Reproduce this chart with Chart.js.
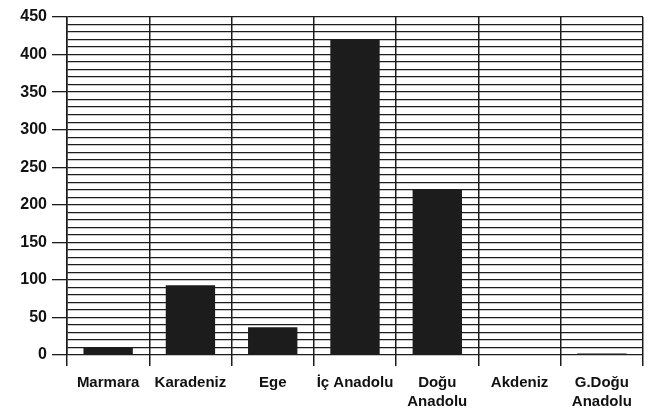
<!DOCTYPE html>
<html>
<head>
<meta charset="utf-8">
<script src="https://cdn.jsdelivr.net/npm/chart.js@4"></script>
<style>
  html, body { margin: 0; padding: 0; background: #fff; }
  #wrap { width: 650px; height: 416px; }
</style>
</head>
<body>
<div id="wrap"><canvas id="grafico" width="650" height="416"></canvas></div>
<script>
// Bölgeler ve değerler
const bolgeler = ['Marmara', 'Karadeniz', 'Ege', 'İç Anadolu', ['Doğu', 'Anadolu'], 'Akdeniz', ['G.Doğu', 'Anadolu']];
const degerler = [10, 93, 37, 420, 220, 0, 2];
const eksenMax = 450;

const koyu = '#1c1c1c';

new Chart(document.getElementById('grafico'), {
    type: 'bar',
    data: {
        labels: bolgeler,
        datasets: [{
            data: degerler,
            backgroundColor: koyu,
            borderWidth: 0,
            categoryPercentage: 0.6,
            barPercentage: 1
        }]
    },
    options: {
        responsive: false,
        animation: false,
        layout: { padding: { top: 17, right: 7, left: 0, bottom: 0 } },
        plugins: { legend: { display: false }, tooltip: { enabled: false } },
        scales: {
            x: {
                grid: {
                    offset: true,
                    color: koyu,
                    lineWidth: 1.5,
                    tickLength: 11,
                    drawOnChartArea: true
                },
                border: { display: false },
                ticks: {
                    color: '#111',
                    font: { family: 'Liberation Sans', size: 15, weight: 'bold', lineHeight: 1.3 },
                    padding: 7,
                    maxRotation: 0,
                    autoSkip: false
                },
                afterFit: function (eksen) { eksen.height = 61; }
            },
            y: {
                min: 0,
                max: eksenMax,
                grid: {
                    color: koyu,
                    lineWidth: 1.3,
                    tickLength: 15,
                    tickColor: function (ctx) {
                        return ctx.tick && ctx.tick.value % 50 === 0 ? koyu : 'rgba(0,0,0,0)';
                    }
                },
                border: { color: koyu, width: 1.5 },
                ticks: {
                    stepSize: 10,
                    autoSkip: false,
                    color: '#111',
                    font: { family: 'Liberation Sans', size: 16, weight: 'bold' },
                    padding: 5,
                    callback: function (v) { return v % 50 === 0 ? v : ''; }
                },
                afterFit: function (eksen) { eksen.width = 67; }
            }
        }
    }
});
</script>
</body>
</html>
